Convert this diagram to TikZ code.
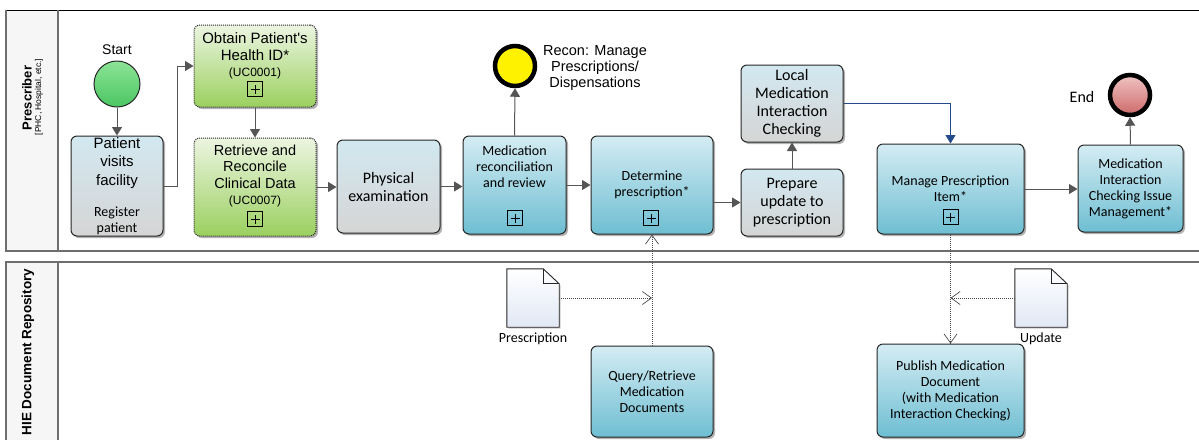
\documentclass[tikz,border=0pt]{standalone}
\usepackage{fontspec}
\newfontfamily\lsans{Liberation Sans}
\newfontfamily\carl{Carlito}
\usetikzlibrary{arrows.meta,shadows,calc}
\definecolor{tblue}{RGB}{212,236,243}
\definecolor{bblue}{RGB}{110,190,210}
\definecolor{tgray}{RGB}{210,232,240}
\definecolor{bgray}{RGB}{213,213,213}
\definecolor{tgreen}{RGB}{236,245,225}
\definecolor{bgreen}{RGB}{155,208,95}
\definecolor{tstart}{RGB}{140,228,150}
\definecolor{bstart}{RGB}{75,198,98}
\definecolor{tend}{RGB}{240,195,195}
\definecolor{bend}{RGB}{205,105,105}
\definecolor{flowgray}{RGB}{85,85,85}
\definecolor{flowblue}{RGB}{35,75,140}
\definecolor{lanegray}{RGB}{110,110,110}
\definecolor{lanehead}{RGB}{246,246,246}
\definecolor{docblue}{RGB}{225,232,245}
\begin{document}
\begin{tikzpicture}[x=1pt,y=-1pt,
  box/.style={rounded corners=6pt, draw=black!85, line width=1pt,
    drop shadow={shadow xshift=2pt, shadow yshift=-2pt, opacity=0.3, fill=black},
    align=center, inner sep=1pt},
  bluebox/.style={box, top color=tblue, bottom color=bblue},
  graybox/.style={box, top color=tgray, bottom color=bgray},
  greenbox/.style={box, top color=tgreen, bottom color=bgreen, dash pattern=on 1pt off 1pt},
  fC/.style={font=\carl\fontsize{14}{16}\selectfont},
  fCL/.style={font=\carl\fontsize{16}{18}\selectfont},
  fA/.style={font=\lsans\fontsize{15}{18.5}\selectfont},
  txt/.style={align=center, inner sep=0pt},
  plusbox/.style={draw=black, line width=0.9pt, minimum size=15pt, inner sep=0pt,
    path picture={\draw[line width=0.9pt] ([xshift=-4.5pt]path picture bounding box.center) -- ([xshift=4.5pt]path picture bounding box.center);
                  \draw[line width=0.9pt] ([yshift=-4.5pt]path picture bounding box.center) -- ([yshift=4.5pt]path picture bounding box.center);}},
  flow/.style={draw=flowgray, line width=1pt, -{Triangle[length=8.5pt,width=10pt]}},
  flowb/.style={draw=flowblue, line width=1pt, -{Triangle[length=8.5pt,width=10pt]}},
  assoc/.style={draw=black!70, line width=0.8pt, dash pattern=on 1pt off 1pt,
    -{Straight Barb[length=9pt,width=13pt,line width=0.7pt]}},
  docnode/.style={minimum width=52pt, minimum height=58pt, inner sep=0pt},
  docline/.style={draw=black!85, line width=0.9pt, top color=white, bottom color=docblue,
    drop shadow={shadow xshift=1.5pt, shadow yshift=-1.5pt, opacity=0.2, fill=black}},
  lanetitle/.style={rotate=90, font=\lsans\bfseries\fontsize{13.5}{15}\selectfont},
]
\useasboundingbox (0,0) rectangle (1199,440);
\fill[white] (0,0) rectangle (1199,440);

% lanes
\fill[lanehead] (6,10) rectangle (58,251);
\fill[lanehead] (6,262) rectangle (58,440);
\draw[black, line width=1pt] (6,10) -- (1199,10);
\draw[lanegray, line width=1.5pt] (6,10) -- (6,251) -- (1199,251);
\draw[lanegray, line width=1.2pt] (58,10) -- (58,251);
\draw[lanegray, line width=1.2pt] (1199,262) -- (6,262) -- (6,440);
\draw[lanegray, line width=1.2pt] (58,262) -- (58,440);
\node[lanetitle, font=\lsans\bfseries\fontsize{13}{15}\selectfont] (lane1) at (27,98) {Prescriber};
\node[rotate=90, font=\lsans\fontsize{8.5}{10}\selectfont] (lane1b) at (39,97) {[PHC, Hospital, etc.]};
\node[lanetitle] (lane2) at (28,352) {HIE Document Repository};

% events
\node[circle, draw=black!85, line width=1pt, minimum size=46pt, top color=tstart, bottom color=bstart] (start) at (117,84) {};
\node[font=\lsans\fontsize{14}{16}\selectfont] (startlbl) at (117,50) {Start};
\node[circle, draw=black, line width=4.5pt, minimum size=40pt, fill=yellow] (recon) at (515,66) {};
\node[txt, font=\lsans\fontsize{14.5}{16}\selectfont] (reconlbl) at (595,68) {Recon: Manage\\Prescriptions/\\Dispensations};
\node[circle, draw=black, line width=4.5pt, minimum size=40pt, top color=tend, bottom color=bend] (end) at (1130,95) {};
\node[fCL] (endlbl) at (1082,97) {End};

% tasks
\node[graybox, minimum width=92pt, minimum height=100pt] (patient) at (117,186) {};
\node[txt, fA] (patientt) at (117,163) {Patient\\visits\\facility};
\node[txt, fC] (patientr) at (117,220.5) {Register\\patient};

\node[greenbox, minimum width=122pt, minimum height=82pt] (obtain) at (255,66) {};
\node[txt, font=\lsans\fontsize{15}{16.5}\selectfont] (obtaint) at (255,56) {Obtain Patient's\\Health ID*\\{\fontsize{12}{16}\selectfont (UC0001)}};
\node[plusbox] (obtainp) at (255,89) {};

\node[greenbox, minimum width=122pt, minimum height=98pt] (retrieve) at (255,187) {};
\node[txt, font=\lsans\fontsize{14.5}{16.3}\selectfont] (retrievet) at (255,176) {Retrieve and\\Reconcile\\Clinical Data\\{\fontsize{12}{16.3}\selectfont (UC0007)}};
\node[plusbox] (retrievep) at (255,219) {};

\node[graybox, fCL, minimum width=103pt, minimum height=93pt] (physical) at (388.5,186.5) {Physical\\examination};

\node[bluebox, minimum width=103pt, minimum height=98pt] (medrec) at (514.5,185) {};
\node[txt, fC] (medrect) at (514.5,167) {Medication\\reconciliation\\and review};
\node[plusbox] (medrecp) at (515,218) {};

\node[bluebox, fC, minimum width=122pt, minimum height=98pt] (determine) at (652,185) {Determine\\prescription*};
\node[plusbox] (determinep) at (651,218) {};

\node[graybox, fCL, minimum width=102pt, minimum height=67pt] (prepare) at (792,202.5) {Prepare\\update to\\prescription};
\node[graybox, fCL, minimum width=102pt, minimum height=77pt] (local) at (792,103.5) {Local\\Medication\\Interaction\\Checking};

\node[bluebox, fC, minimum width=147pt, minimum height=90pt] (manage) at (950.5,189) {Manage Prescription\\Item*};
\node[plusbox] (managep) at (950.5,217) {};

\node[bluebox, fC, minimum width=105pt, minimum height=87pt] (micim) at (1130.5,188.5) {Medication\\Interaction\\Checking Issue\\Management*};

\node[bluebox, fC, minimum width=122pt, minimum height=91pt] (query) at (652,391.5) {Query/Retrieve\\Medication\\Documents};
\node[bluebox, fC, minimum width=147pt, minimum height=93pt] (publish) at (950.5,390.5) {Publish Medication\\Document\\(with Medication\\Interaction Checking)};

% data objects
\node[docnode] (presc) at (533,298) {};
\path[docline] (presc.north west) -- ([xshift=-16pt]presc.north east) -- ([yshift=-15pt]presc.north east) -- (presc.south east) -- (presc.south west) -- cycle;
\draw[black!85, line width=0.9pt] ([xshift=-16pt]presc.north east) -- ([xshift=-16pt,yshift=-15pt]presc.north east) -- ([yshift=-15pt]presc.north east);
\node[fC] (presclbl) at (533,339) {Prescription};

\node[docnode] (update) at (1041,298) {};
\path[docline] (update.north west) -- ([xshift=-16pt]update.north east) -- ([yshift=-15pt]update.north east) -- (update.south east) -- (update.south west) -- cycle;
\draw[black!85, line width=0.9pt] ([xshift=-16pt]update.north east) -- ([xshift=-16pt,yshift=-15pt]update.north east) -- ([yshift=-15pt]update.north east);
\node[fC] (updatelbl) at (1041,339) {Update};

% sequence flows
\draw[flow] (start.south) -- (patient.north);
\draw[flow] (patient.east) -- ++(14pt,0pt) |- (obtain.west);
\draw[flow] (obtain.south) -- (retrieve.north);
\draw[flow] (retrieve.east) -- (retrieve.east -| physical.west);
\draw[flow] (physical.east) -- (physical.east -| medrec.west);
\draw[flow] (medrec.north) -- (recon.south);
\draw[flow] (medrec.east) -- (medrec.east -| determine.west);
\draw[flow] (determine.east |- prepare.west) -- (prepare.west);
\draw[flow] (prepare.north) -- (local.south);
\draw[flowb] (local.east) -| (manage.north);
\draw[flow] (manage.east) -- (manage.east -| micim.west);
\draw[flow] (micim.north) -- (end.south);

% message / association flows
\draw[assoc] (query.north) -- (determine.south);
\coordinate (qa) at (query.north |- presc.east);
\draw[assoc] (presc.east) -- (qa);
\draw[assoc] (manage.south) -- (publish.north);
\coordinate (pa) at (manage.south |- update.west);
\draw[assoc] (update.west) -- (pa);
\end{tikzpicture}
\end{document}
